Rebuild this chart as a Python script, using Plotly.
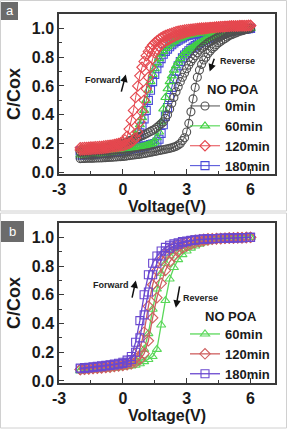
import plotly.graph_objects as go

# ---------------- data ----------------
# Panel a: voltage sweep -2..6 V, 0.1 V step
V_A = [round(-2 + 0.1 * i, 1) for i in range(81)]

a0_fwd = [.14, .142, .144, .146, .148, .15, .152, .154, .156, .158,
          .16, .164, .168, .172, .176, .18, .184, .188, .192, .196,
          .20, .206, .212, .218, .224, .23, .236, .242, .248, .254,
          .26, .268, .276, .284, .292, .30, .312, .324, .337, .35,
          .375, .40, .44, .48, .52, .56, .595, .63, .66, .69,
          .72, .745, .77, .79, .81, .83, .85, .863, .876, .888,
          .90, .908, .916, .924, .932, .94, .946, .952, .958, .964,
          .97, .974, .978, .982, .986, .99, .992, .994, .996, .998,
          1.0]
a0_rev = [.095, .096, .096, .097, .097, .098, .098, .099, .099, .10,
          .10, .101, .102, .103, .104, .105, .106, .107, .108, .109,
          .11, .112, .114, .116, .118, .12, .122, .124, .126, .128,
          .13, .133, .136, .139, .142, .145, .148, .151, .154, .157,
          .16, .163, .166, .17, .175, .18, .19, .20, .22, .24,
          .28, .34, .42, .51, .59, .66, .71, .75, .78, .80,
          .825, .843, .86, .873, .887, .90, .91, .92, .93, .94,
          .95, .956, .962, .968, .974, .98, .984, .988, .992, .996,
          1.0]
a60_fwd = [.16, .161, .163, .164, .166, .167, .169, .17, .172, .173,
           .175, .177, .18, .182, .185, .187, .19, .192, .195, .197,
           .20, .205, .21, .215, .225, .24, .26, .29, .33, .38,
           .43, .50, .57, .63, .68, .72, .76, .79, .82, .84,
           .86, .873, .886, .898, .91, .92, .926, .932, .938, .944,
           .95, .953, .956, .959, .962, .965, .967, .969, .971, .973,
           .975, .977, .979, .981, .983, .985, .986, .987, .988, .989,
           .99, .991, .992, .993, .994, .995, .996, .997, .998, .999,
           1.0]
a60_rev = [.12, .121, .122, .123, .124, .125, .126, .127, .128, .129,
           .13, .132, .134, .136, .138, .14, .142, .144, .146, .148,
           .15, .153, .156, .159, .162, .165, .168, .171, .174, .177,
           .18, .185, .19, .195, .20, .21, .24, .28, .35, .44,
           .52, .58, .63, .67, .71, .74, .765, .79, .81, .825,
           .84, .85, .86, .87, .88, .89, .898, .906, .914, .922,
           .93, .936, .942, .948, .954, .96, .964, .968, .972, .976,
           .98, .982, .984, .986, .988, .99, .992, .994, .996, .998,
           1.0]
a120_fwd = [.17, .171, .172, .173, .174, .175, .176, .177, .178, .179,
            .18, .182, .184, .186, .188, .19, .193, .196, .20, .205,
            .21, .225, .25, .30, .36, .43, .52, .60, .67, .73,
            .77, .81, .84, .865, .885, .90, .913, .925, .935, .943,
            .95, .956, .962, .967, .972, .976, .98, .983, .986, .989,
            .99, .992, .994, .996, .998, 1.0, 1.001, 1.002, 1.003, 1.004,
            1.005, 1.006, 1.007, 1.008, 1.009, 1.01, 1.011, 1.012, 1.013, 1.014,
            1.015, 1.016, 1.016, 1.017, 1.017, 1.018, 1.018, 1.019, 1.019, 1.02,
            1.02]
a120_rev = [.155, .156, .157, .158, .159, .16, .161, .162, .163, .164,
            .165, .167, .169, .171, .173, .175, .177, .179, .181, .183,
            .185, .19, .195, .20, .21, .22, .24, .28, .35, .42,
            .50, .58, .66, .73, .79, .83, .855, .875, .89, .90,
            .91, .918, .926, .934, .942, .95, .955, .96, .965, .97,
            .975, .978, .981, .984, .987, .99, .992, .994, .996, .998,
            1.0, 1.002, 1.004, 1.006, 1.008, 1.01, 1.011, 1.012, 1.013, 1.014,
            1.015, 1.016, 1.016, 1.017, 1.017, 1.018, 1.018, 1.019, 1.019, 1.02,
            1.02]
a180_fwd = [.15, .151, .152, .153, .154, .155, .156, .157, .158, .159,
            .16, .162, .164, .166, .168, .17, .172, .174, .176, .178,
            .18, .185, .19, .195, .20, .21, .225, .245, .275, .32,
            .37, .43, .50, .57, .63, .68, .72, .76, .79, .82,
            .84, .856, .872, .886, .898, .91, .918, .926, .934, .942,
            .95, .953, .956, .959, .962, .965, .967, .969, .971, .973,
            .975, .977, .979, .981, .983, .985, .986, .987, .988, .989,
            .99, .991, .992, .993, .994, .995, .996, .997, .998, .999,
            1.0]
a180_rev = [.12, .121, .122, .123, .124, .125, .126, .127, .128, .129,
            .13, .132, .134, .136, .138, .14, .142, .144, .146, .148,
            .15, .153, .156, .159, .162, .165, .168, .171, .174, .177,
            .18, .184, .188, .192, .196, .20, .21, .23, .27, .33,
            .39, .45, .52, .59, .65, .70, .74, .77, .795, .815,
            .83, .845, .86, .87, .88, .89, .898, .906, .914, .922,
            .93, .936, .942, .948, .954, .96, .964, .968, .972, .976,
            .98, .982, .984, .986, .988, .99, .992, .994, .996, .998,
            1.0]

# Panel b: voltage sweep -2..6 V, 0.2 V step
V_B = [round(-2 + 0.2 * i, 1) for i in range(41)]

b60_fwd = [.075, .078, .081, .084, .087, .09, .094, .098, .102, .107,
           .112, .118, .125, .14, .165, .22, .33, .50, .64, .75,
           .82, .87, .90, .925, .94, .952, .962, .97, .976, .981,
           .985, .988, .99, .992, .994, .995, .996, .997, .998, .999,
           1.0]
b60_rev = [.07, .072, .074, .076, .078, .08, .083, .086, .089, .092,
           .096, .10, .105, .11, .12, .135, .15, .17, .22, .39,
           .56, .71, .79, .845, .88, .905, .925, .94, .953, .963,
           .97, .976, .981, .985, .988, .991, .993, .995, .997, .999,
           1.0]
b120_fwd = [.08, .083, .086, .089, .092, .095, .099, .103, .107, .112,
            .117, .123, .135, .16, .22, .34, .52, .67, .77, .84,
            .885, .915, .935, .95, .96, .968, .975, .98, .984, .987,
            .99, .991, .992, .993, .994, .995, .996, .997, .998, .999,
            1.0]
b120_rev = [.08, .082, .084, .086, .088, .09, .093, .096, .10, .104,
            .108, .113, .12, .13, .15, .19, .28, .44, .58, .68,
            .77, .83, .87, .90, .925, .94, .952, .962, .97, .977,
            .982, .986, .989, .991, .993, .995, .996, .997, .998, .999,
            1.0]
b180_fwd = [.09, .093, .096, .099, .102, .105, .109, .113, .118, .124,
            .13, .145, .17, .27, .42, .60, .74, .82, .87, .905,
            .93, .945, .955, .963, .97, .975, .979, .983, .986, .988,
            .99, .991, .992, .993, .994, .995, .996, .997, .998, .999,
            1.0]
b180_rev = [.085, .088, .091, .094, .097, .10, .104, .108, .112, .117,
            .122, .13, .15, .20, .30, .46, .62, .74, .82, .87,
            .905, .925, .94, .952, .962, .97, .976, .981, .985, .988,
            .99, .991, .992, .993, .994, .995, .996, .997, .998, .999,
            1.0]

X_TICKS = [-3, 0, 3, 6]
Y_TICKS = [0.0, 0.2, 0.4, 0.6, 0.8, 1.0]
Y_TICKTEXT = ["0.0", "0.2", "0.4", "0.6", "0.8", "1.0"]

# ---------------- figure ----------------
W, H = 288, 429
ML, MR, MT, MB = 59, 13, 14, 46
PW, PH = W - ML - MR, H - MT - MB


def px(x):
    return (x - ML) / PW


def py(y):
    return (H - MB - y) / PH


FONT = "Liberation Sans, Arial, sans-serif"
GRAY, GREEN, RED, BLUE = "#505050", "#3fd23f", "#e5484f", "#4a4ad8"
GREEN_B, RED_B, BLUE_B = "#5ad85a", "#cf5f5f", "#6a48d0"


def loop(v, fwd, rev):
    assert len(v) == len(fwd) == len(rev), (len(v), len(fwd), len(rev))
    return list(v) + list(v[::-1]), list(fwd) + list(rev[::-1])


fig = go.Figure()

panel_a = [
    ("180min", a180_fwd, a180_rev, BLUE, "square-open"),
    ("60min", a60_fwd, a60_rev, GREEN, "triangle-up-open"),
    ("0min", a0_fwd, a0_rev, GRAY, "circle-open"),
    ("120min", a120_fwd, a120_rev, RED, "diamond-open"),
]
rank_a = {"0min": 1, "60min": 2, "120min": 3, "180min": 4}
for name, f, r, c, sym in panel_a:
    x, y = loop(V_A, f, r)
    fig.add_trace(go.Scatter(
        x=x, y=y, name=name, mode="lines+markers", xaxis="x", yaxis="y",
        line=dict(color=c, width=1),
        marker=dict(symbol=sym, size=8, color=c, line=dict(width=1.1, color=c)),
        legend="legend", legendrank=rank_a[name]))

panel_b = [
    ("60min", b60_fwd, b60_rev, GREEN_B, "triangle-up-open"),
    ("120min", b120_fwd, b120_rev, RED_B, "diamond-open"),
    ("180min", b180_fwd, b180_rev, BLUE_B, "square-open"),
]
for i, (name, f, r, c, sym) in enumerate(panel_b):
    x, y = loop(V_B, f, r)
    fig.add_trace(go.Scatter(
        x=x, y=y, name=name, mode="lines+markers", xaxis="x2", yaxis="y2",
        line=dict(color=c, width=1.3),
        marker=dict(symbol=sym, size=8, color=c, line=dict(width=1.1, color=c)),
        legend="legend2", legendrank=i + 1))

axis_common = dict(
    showgrid=False, zeroline=False, showline=True, mirror=True,
    linecolor="#3a3a3a", linewidth=1.5, ticks="inside", ticklen=5,
    tickwidth=1.3, tickcolor="#3a3a3a",
    tickfont=dict(family=FONT, size=16, color="#1a1a1a", weight="bold"),
)
xa = dict(axis_common, range=[-3, 7.15], tickvals=X_TICKS,
          ticktext=[str(t) for t in X_TICKS],
          minor=dict(dtick=1.5, tick0=0, ticks="inside", ticklen=3,
                     tickcolor="#3a3a3a", tickwidth=1.2),
          title=dict(text="Voltage(V)", standoff=0,
                     font=dict(family=FONT, size=16, color="#1a1a1a", weight="bold")))
ya = dict(axis_common, tickvals=Y_TICKS, ticktext=Y_TICKTEXT,
          minor=dict(dtick=0.1, tick0=0, ticks="inside", ticklen=3,
                     tickcolor="#3a3a3a", tickwidth=1.2),
          title=dict(text="C/Cox", standoff=6,
                     font=dict(family=FONT, size=18, color="#1a1a1a", weight="bold")))

leg_font = dict(family=FONT, size=13, color="#1a1a1a", weight="bold")
fig.update_layout(
    width=W, height=H, margin=dict(l=ML, r=MR, t=MT, b=MB),
    paper_bgcolor="white", plot_bgcolor="white",
    xaxis=dict(xa, domain=[0, 1], anchor="y"),
    yaxis=dict(ya, domain=[py(174), 1], range=[-0.012, 1.1], anchor="x"),
    xaxis2=dict(xa, domain=[0, 1], anchor="y2"),
    yaxis2=dict(ya, domain=[0, py(223)], range=[-0.014, 1.1], anchor="x2"),
    legend=dict(x=px(185), y=py(91), xanchor="left", yanchor="top",
                bgcolor="rgba(0,0,0,0)", tracegroupgap=0, font=leg_font),
    legend2=dict(x=px(185), y=py(319), xanchor="left", yanchor="top",
                 bgcolor="rgba(0,0,0,0)", tracegroupgap=0, font=leg_font),
    showlegend=True,
)

ann = []
hdr = dict(xref="paper", yref="paper", showarrow=False, xanchor="center", yanchor="middle",
           font=dict(family=FONT, size=13, color="#1a1a1a"))
# legend headers
ann.append(dict(hdr, text="<b>NO POA</b>", x=px(233), y=py(89)))
ann.append(dict(hdr, text="<b>NO POA</b>", x=px(231), y=py(316)))
# arrow labels
lab = dict(showarrow=False, xanchor="center", yanchor="middle",
           font=dict(family=FONT, size=9, color="#222"))
ann.append(dict(lab, text="<b>Forward</b>", x=-0.92, y=0.64, xref="x", yref="y"))
ann.append(dict(lab, text="<b>Reverse</b>", x=5.4, y=0.77, xref="x", yref="y"))
ann.append(dict(lab, text="<b>Forward</b>", x=-0.54, y=0.67, xref="x2", yref="y2"))
ann.append(dict(lab, text="<b>Reverse</b>", x=3.66, y=0.58, xref="x2", yref="y2"))
arr = dict(text="", showarrow=True, arrowhead=2, arrowsize=1, arrowwidth=1.5,
           arrowcolor="#111")
ann.append(dict(arr, x=0.14, y=0.68, ax=-0.09, ay=0.55, xref="x", yref="y", axref="x", ayref="y"))
ann.append(dict(arr, x=4.08, y=0.70, ax=4.32, ay=0.80, xref="x", yref="y", axref="x", ayref="y"))
ann.append(dict(arr, x=0.61, y=0.70, ax=0.42, ay=0.57, xref="x2", yref="y2", axref="x2", ayref="y2"))
ann.append(dict(arr, x=2.49, y=0.51, ax=2.68, ay=0.67, xref="x2", yref="y2", axref="x2", ayref="y2"))
# panel letters
letter = dict(xref="paper", yref="paper", showarrow=False, xanchor="center", yanchor="middle",
              font=dict(family=FONT, size=13, color="white"))
ann.append(dict(letter, text="a", x=px(9.5), y=py(10.5)))
ann.append(dict(letter, text="b", x=px(12.5), y=py(231)))
fig.update_layout(annotations=ann)

shapes = []
# light panel frames
shapes.append(dict(type="rect", xref="paper", yref="paper", x0=px(0.5), x1=px(286.5),
                   y0=py(211), y1=py(0.5), line=dict(color="#d0d0d0", width=1), layer="below"))
shapes.append(dict(type="rect", xref="paper", yref="paper", x0=px(0.5), x1=px(286.5),
                   y0=py(428), y1=py(213), line=dict(color="#d0d0d0", width=1), layer="below"))
# letter boxes
shapes.append(dict(type="rect", xref="paper", yref="paper", x0=px(1), x1=px(18),
                   y0=py(20), y1=py(2), fillcolor="#6b6b6b", line=dict(width=0), layer="below"))
shapes.append(dict(type="rect", xref="paper", yref="paper", x0=px(1), x1=px(24),
                   y0=py(242), y1=py(221), fillcolor="#6b6b6b", line=dict(width=0), layer="below"))
fig.update_layout(shapes=shapes)

fig.write_html("out.html")
